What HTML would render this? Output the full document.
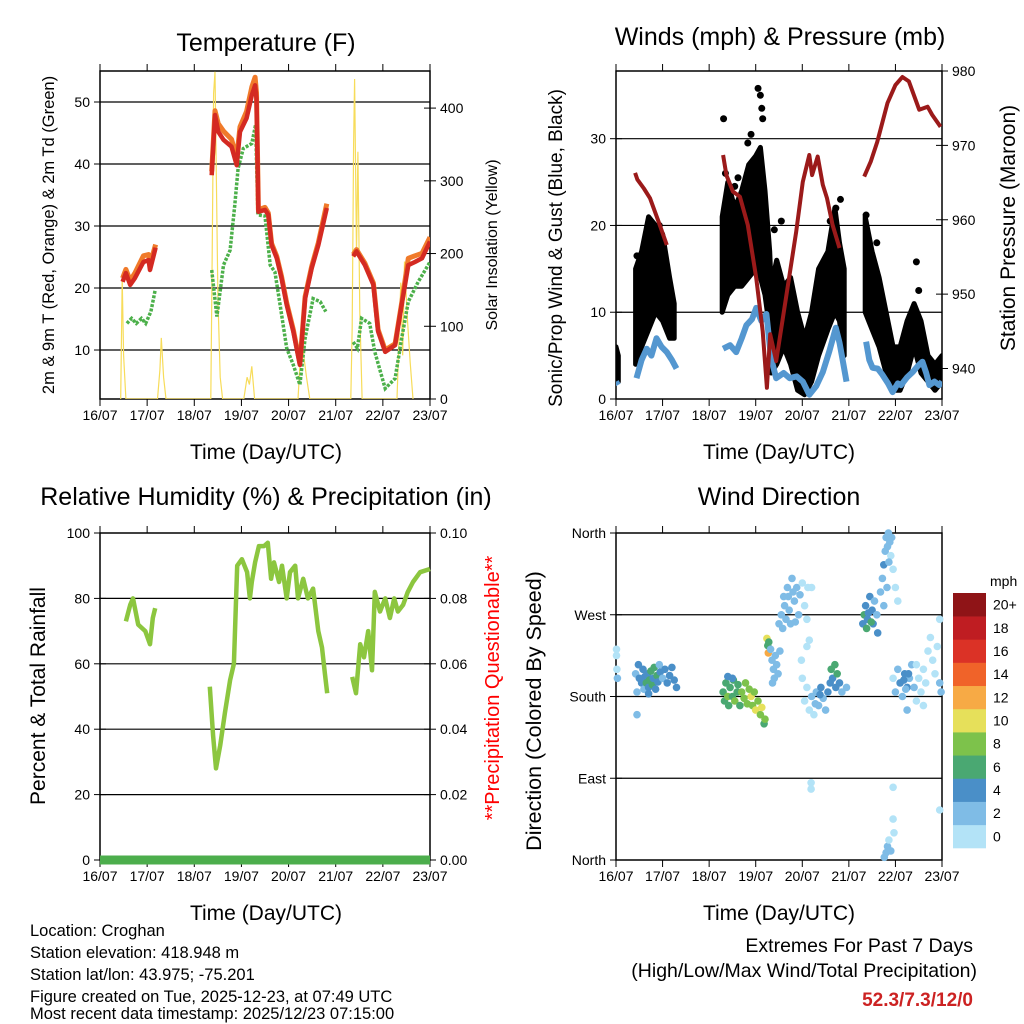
<!DOCTYPE html>
<html><head><meta charset="utf-8">
<style>
html,body{margin:0;padding:0;background:#fff;}
svg{display:block;font-family:"Liberation Sans",Arial,sans-serif;}
</style></head>
<body>
<svg id="chart" width="1024" height="1024" viewBox="0 0 1024 1024" xmlns="http://www.w3.org/2000/svg">
<rect x="0" y="0" width="1024" height="1024" fill="#fff"/>
<g id="layer"></g>
<text x="266" y="51" font-size="25" text-anchor="middle">Temperature (F)</text>
<text x="780" y="45" font-size="25" text-anchor="middle">Winds (mph) &amp; Pressure (mb)</text>
<text x="266" y="505" font-size="25" text-anchor="middle">Relative Humidity (%) &amp; Precipitation (in)</text>
<text x="779" y="505" font-size="25" text-anchor="middle">Wind Direction</text>
<text x="266" y="459" font-size="21" text-anchor="middle">Time (Day/UTC)</text>
<text x="779" y="459" font-size="21" text-anchor="middle">Time (Day/UTC)</text>
<text x="266" y="920" font-size="21" text-anchor="middle">Time (Day/UTC)</text>
<text x="779" y="920" font-size="21" text-anchor="middle">Time (Day/UTC)</text>
<text transform="translate(54,235) rotate(-90)" font-size="16.5" text-anchor="middle">2m &amp; 9m T (Red, Orange) &amp; 2m Td (Green)</text>
<text transform="translate(497,245) rotate(-90)" font-size="16" text-anchor="middle">Solar Insolation (Yellow)</text>
<text transform="translate(562,248) rotate(-90)" font-size="19" text-anchor="middle">Sonic/Prop Wind &amp; Gust (Blue, Black)</text>
<text transform="translate(1015,228) rotate(-90)" font-size="21" text-anchor="middle">Station Pressure (Maroon)</text>
<text transform="translate(45,696) rotate(-90)" font-size="21" text-anchor="middle">Percent &amp; Total Rainfall</text>
<text transform="translate(499,688) rotate(-90)" font-size="20" text-anchor="middle" fill="#ff0000">**Precipitation Questionable**</text>
<text transform="translate(541,711) rotate(-90)" font-size="21.5" text-anchor="middle">Direction (Colored By Speed)</text>
<g font-size="16.5">
<text x="30" y="936">Location: Croghan</text>
<text x="30" y="958">Station elevation: 418.948 m</text>
<text x="30" y="980">Station lat/lon: 43.975; -75.201</text>
<text x="30" y="1002">Figure created on Tue, 2025-12-23, at 07:49 UTC</text>
<text x="30" y="1019">Most recent data timestamp: 2025/12/23 07:15:00</text>
</g>
<g text-anchor="end">
<text x="973" y="952" font-size="19.5">Extremes For Past 7 Days</text>
<text x="977" y="977" font-size="19.5">(High/Low/Max Wind/Total Precipitation)</text>
<text x="973" y="1006" font-size="19" font-weight="bold" fill="#cc2222">52.3/7.3/12/0</text>
</g>
</svg>
<script>
// ---------- DATA ----------
const dayLabels=["16/07","17/07","18/07","19/07","20/07","21/07","22/07","23/07"];
const tempTicks=[0,10,20,30,40,50];
const solarTicks=[0,100,200,300,400];
const windTicks=[0,10,20,30];
const presTicks=[940,950,960,970,980];
const rhTicks=[0,20,40,60,80,100];
const precipTicks=["0.00","0.02","0.04","0.06","0.08","0.10"];
const dirTickLabels=["North","East","South","West","North"];
const dirTickValues=[0,90,180,270,360];
const speedBinLabels=["0","2","4","6","8","10","12","14","16","18","20+"];
const speedColors=["#b3e3f7","#7fbce6","#4a8fc8","#4aa872","#7dc24b","#e6e05a","#f7aa45","#f06329","#db3226","#bf1d22","#8f1417"];

const tempT=[0.48,0.55,0.64,0.74,0.92,1.03,1.06,1.18,null,2.37,2.44,2.51,2.62,2.79,2.90,2.97,3.11,3.22,3.29,3.32,3.36,3.50,3.57,3.64,3.75,3.85,3.96,4.10,4.24,4.35,4.49,4.63,4.81,null,5.37,5.44,5.62,5.80,5.90,6.05,6.26,6.40,6.54,6.68,6.83,7.0];
const temp2m=[21.0,22.4,20.5,21.6,24.2,24.5,22.9,26.5,null,38.2,47.9,45.2,43.9,42.8,39.8,45.2,47.4,51.1,52.7,50.6,32.3,32.6,31.8,26.9,24.8,21.6,17.3,13.0,7.6,18.3,23.2,26.9,32.9,null,25.1,25.9,23.7,20.5,13.0,9.7,10.8,17.3,23.7,24.2,24.8,27.5];
const temp9m=[21.6,23.0,21.2,22.4,25.2,25.4,23.8,27.0,null,38.8,48.6,46.5,45.3,44.0,41.0,46.0,48.5,52.4,54.0,51.5,32.6,33.0,32.1,27.2,25.1,21.9,17.6,13.3,7.8,18.6,23.5,27.3,33.6,null,25.4,26.2,24.0,20.8,13.3,10.0,11.0,17.6,24.8,25.2,25.6,28.2];
const tdT=[0.57,0.67,0.77,0.88,0.97,1.08,1.17,null,2.37,2.48,2.62,2.76,2.86,2.93,3.04,3.22,3.30,3.35,3.50,3.61,3.71,3.82,3.96,4.10,4.24,4.35,4.52,4.67,4.79,null,5.37,5.46,5.55,5.72,5.83,6.05,6.26,6.40,6.54,6.75,7.0];
const tdV=[14.3,15.1,14.3,15.1,14.3,16.2,19.7,null,22.9,15.4,23.7,26.1,33.4,39.3,42.5,43.3,46.3,31.8,31.6,23.7,22.6,17.3,10.3,7.6,4.4,11.9,18.3,17.8,16.2,null,11.3,10.3,15.1,14.3,9.7,3.8,5.4,11.9,17.8,21.0,24.2];
const solarT=[0.44,0.47,0.50,0.55,1.22,1.27,1.30,1.35,1.40,2.35,2.38,2.41,2.44,2.47,2.50,2.55,2.60,3.05,3.12,3.17,3.22,3.28,4.20,4.27,4.32,4.38,4.45,5.32,5.35,5.38,5.40,5.44,5.47,5.51,5.56,6.30,6.38,6.42,6.46,6.52,6.58,6.64];
const solarV=[0,166,60,0,0,40,84,30,0,0,200,420,450,300,140,30,0,0,30,20,45,0,0,80,60,30,0,0,100,350,440,200,340,120,0,0,160,60,189,110,50,0];

const sonicT=[0.0,0.04,null,0.44,0.55,0.66,0.76,0.87,0.98,1.09,1.20,1.30,null,2.30,2.45,2.58,2.70,2.80,2.92,3.01,3.12,3.23,3.33,3.44,3.60,3.73,3.88,4.01,4.15,4.30,4.44,4.58,4.72,4.80,4.87,4.95,null,5.37,5.44,5.51,5.62,5.72,5.84,5.94,6.05,6.12,6.25,6.37,6.48,6.58,6.66,6.73,6.84,6.94,7.0];
const sonicV=[2.0,1.6,null,2.4,4.5,5.8,5.0,7.0,6.0,5.4,4.5,3.5,null,5.8,6.2,5.4,7.0,8.5,9.2,10.5,9.0,9.8,4.7,2.4,3.0,2.4,2.6,2.0,0.5,1.5,3.1,5.5,8.2,6.5,4.4,2.0,null,6.6,4.5,3.6,3.5,2.8,1.8,0.8,1.8,1.6,2.5,3.1,3.8,4.3,3.0,1.6,2.0,1.6,2.0];
const gustT=[0.0,0.05,null,0.42,0.55,0.70,0.85,1.00,1.15,1.25,null,2.28,2.40,2.55,2.70,2.85,3.00,3.10,3.20,3.30,3.33,3.45,3.60,3.75,3.90,4.05,4.20,4.35,4.55,4.70,4.80,4.90,null,5.35,5.50,5.65,5.80,5.95,6.10,6.25,6.40,6.55,6.70,6.85,7.0];
const gustLo=[2,2,null,4,6,8,10,9,7,7,null,10,12,13,13,14,15,14,12,8,3,4,6,4,1,0.5,2,5,8,10,9,5,null,10,8,6,3,1,1,3,6,3,2,1,2];
const gustHi=[6,5,null,15,17,21,20,19,14,11,null,21,25,22,24,27,28,29,24,17,13,16,13,14,10,7,10,15,17,22,18,15,null,21,17,14,10,6,6,9,11,9,5,4,5];
const gustOutT=[2.31,2.62,2.83,2.90,3.05,3.10,3.13,3.15,3.55,4.72,4.82,5.37,5.60,6.45,0.45,0.62,0.93,2.35,2.55,3.40,3.48,4.60,5.45,6.50];
const gustOutV=[32.3,25.5,29.5,30.5,35.8,35.0,33.5,32.3,20.5,22.0,23.0,21.2,18.0,15.8,16.5,17.5,20.0,26.0,24.5,19.5,14.5,20.5,17.5,12.5];
const presT=[0.41,0.46,0.60,0.73,0.91,1.09,null,2.30,2.37,2.51,2.66,2.83,3.01,3.15,3.24,3.31,3.44,3.65,3.87,4.01,4.15,4.21,4.33,4.44,4.53,4.65,4.80,null,5.33,5.47,5.61,5.83,6.00,6.15,6.29,6.51,6.69,6.79,6.97];
const presV=[966.3,965.4,964.2,962.9,959.8,956.6,null,968.7,966.0,963.8,963.1,959.3,952.2,945.0,937.4,944.6,941.0,949.5,958.4,965.1,968.7,966.0,968.5,964.7,962.9,959.3,956.2,null,965.8,967.8,970.5,975.7,978.1,979.2,978.6,974.8,975.2,974.1,972.5];

const rhT=[0.55,0.64,0.70,0.81,0.96,1.06,1.12,1.17,null,2.33,2.40,2.46,2.55,2.65,2.76,2.84,2.91,3.01,3.12,3.18,3.22,3.29,3.37,3.48,3.56,3.63,3.69,3.80,3.86,3.96,4.03,4.14,4.20,4.31,4.41,4.52,4.63,4.71,4.77,4.82,null,5.35,5.43,5.52,5.60,5.69,5.77,5.83,5.94,6.05,6.15,6.24,6.32,6.43,6.53,6.64,6.79,7.0];
const rhV=[73,78,80,72,70,66,74,77,null,53,38,28,35,45,55,60,90,92,88,80,85,91,96,96,97,86,91,85,90,80,88,90,80,86,80,83,70,65,57,51,null,56,51,66,62,70,58,82,76,80,74,80,76,78,82,85,88,89];
const precipT=[0,7];
const precipV=[0,0];

const dirT=[0.01,0.02,0.03,0.01,0.42,0.45,0.48,0.5,0.55,0.58,0.6,0.62,0.65,0.68,0.7,0.72,0.75,0.78,0.8,0.82,0.85,0.88,0.9,0.93,0.95,1.0,1.05,1.1,1.15,1.2,1.25,1.3,0.45,0.7,
2.3,2.33,2.36,2.4,2.42,2.45,2.5,2.52,2.55,2.6,2.62,2.66,2.7,2.75,2.78,2.82,2.86,2.9,2.93,2.97,3.0,3.05,3.1,3.13,3.18,3.2,2.5,2.4,
3.24,3.26,3.27,3.28,3.32,3.35,3.38,3.4,3.42,3.45,3.48,3.52,3.36,
3.5,3.55,3.58,3.62,3.65,3.7,3.72,3.75,3.8,3.83,3.88,3.92,3.95,4.0,4.05,4.1,3.6,3.85,4.12,4.15,3.68,3.78,
4.05,4.1,4.15,4.2,4.25,4.3,4.35,4.4,4.45,4.5,4.55,4.6,4.62,4.65,4.7,4.72,4.75,4.8,4.85,4.95,4.0,3.98,4.1,4.28,4.38,
5.3,5.33,5.36,5.38,5.4,5.45,5.5,5.52,5.55,5.6,5.62,5.68,5.75,5.42,5.48,
5.72,5.75,5.78,5.8,5.83,5.85,5.88,5.9,5.95,6.0,6.05,5.82,5.92,5.86,
5.95,6.0,6.05,6.1,6.15,6.2,6.25,6.3,6.35,6.4,6.45,6.5,6.55,6.6,6.65,6.7,6.75,6.8,6.85,6.9,6.95,6.98,6.25,6.45,6.6,6.18,6.28,6.22,
5.76,5.8,5.83,5.86,5.9,5.95,5.97,
4.19,4.19,5.95,6.95,6.95,4.2];
const dirV=[225,210,200,232,205,185,215,200,195,210,188,202,195,205,190,198,208,193,200,212,188,203,196,215,207,200,210,195,203,212,198,190,160,183,
185,175,195,180,170,190,180,198,175,185,193,170,185,178,195,172,188,180,170,185,165,175,160,168,150,155,200,202,
244,236,228,240,232,220,210,200,225,215,205,230,195,
260,270,255,280,265,290,275,260,295,285,300,270,292,305,280,265,290,262,300,242,300,310,
175,190,165,180,160,185,170,190,178,165,185,195,210,200,215,190,205,195,185,190,200,220,235,172,182,
260,270,280,255,265,290,275,260,285,270,250,295,280,272,262,
310,325,340,355,345,360,350,335,320,300,285,300,355,328,
200,185,210,195,180,205,190,200,215,190,175,200,185,210,195,230,245,220,205,235,195,185,165,215,170,198,205,188,
3,8,15,22,10,45,30,
85,78,80,265,55,300];
const dirS=[1,1,2,1,3,3,4,4,4,4,3,5,6,4,5,6,6,6,5,6,4,6,4,3,4,3,4,4,4,4,4,4,3,4,
7,6,7,8,6,7,6,7,8,6,7,7,9,8,9,8,9,10,9,8,10,8,9,10,7,8,4,4,
10,7,12,6,2,2,2,2,3,2,2,2,2,
2,2,3,2,2,2,2,2,2,2,2,2,2,1,1,1,3,3,1,1,2,2,
1,1,1,2,1,3,2,4,3,2,4,4,6,5,6,4,6,4,3,2,1,1,1,3,4,
4,6,4,6,4,4,4,4,2,2,4,2,2,5,6,
2,4,2,2,2,2,2,1,1,1,1,2,2,3,
1,2,2,4,2,4,4,3,2,2,1,1,1,1,1,1,1,1,1,1,3,3,2,1,1,4,4,2,
2,2,2,1,2,1,1,
1,1,1,1,1,1];

// ---------- DRAWING ----------
const NS="http://www.w3.org/2000/svg";
const layer=document.getElementById('layer');
function mk(tag,attrs,parent){const e=document.createElementNS(NS,tag);for(const k in attrs)e.setAttribute(k,attrs[k]);(parent||layer).appendChild(e);return e;}
function scale(d0,d1,r0,r1){return v=>r0+(v-d0)/(d1-d0)*(r1-r0);}

const P1={x0:100,x1:430,y0:71,y1:399};
const P2={x0:616,x1:942,y0:71,y1:399};
const P3={x0:100,x1:430,y0:533,y1:860};
const P4={x0:616,x1:942,y0:533,y1:860};

function linePath(ts,vs,xs,ys){let d="",pen=false;for(let i=0;i<ts.length;i++){if(ts[i]===null||vs[i]===null){pen=false;continue;}d+=(pen?"L":"M")+xs(ts[i]).toFixed(1)+","+ys(vs[i]).toFixed(1);pen=true;}return d;}

function frame(P,name){
  const g=mk('g',{});
  
  
  mk('rect',{x:P.x0,y:P.y0,width:P.x1-P.x0,height:P.y1-P.y0,fill:'none',stroke:'#000','stroke-width':1.5},g);
  const xs=scale(0,7,P.x0,P.x1);
  dayLabels.forEach((lab,i)=>{
    const x=xs(i);
    mk('line',{x1:x,x2:x,y1:P.y1,y2:P.y1+7,stroke:'#000','stroke-width':1},g);
    mk('line',{x1:x,x2:x,y1:P.y0,y2:P.y0-7,stroke:'#000','stroke-width':1},g);
    const t=mk('text',{x:x,y:P.y1+21,'font-size':14,'text-anchor':'middle'},g);
    
    
    t.textContent=lab;
  });
  return xs;
}
function yAxis(P,ticks,labels,ys,side,grid,name){
  const g=mk('g',{});
  
  
  ticks.forEach((v,i)=>{
    const y=ys(v);
    if(grid && y>P.y0+1 && y<P.y1-1) mk('line',{x1:P.x0,x2:P.x1,y1:y,y2:y,stroke:'#000','stroke-width':1.2},g);
    const x=side==='l'?P.x0:P.x1;
    mk('line',{x1:x-6,x2:x+6,y1:y,y2:y,stroke:'#000','stroke-width':1},g);
    const t=mk('text',{x:side==='l'?x-10:x+10,y:y+5,'font-size':14,'text-anchor':side==='l'?'end':'start'},g);
    
    
    t.textContent=labels[i];
  });
}

// ---- Panel 1 Temperature
const x1s=frame(P1,'temperature-panel');
const yT=scale(2.1,55,P1.y1,P1.y0);
const yS=scale(0,451,P1.y1,P1.y0);
yAxis(P1,tempTicks.slice(1),tempTicks.slice(1),yT,'l',true,'temp-y-axis');
yAxis(P1,solarTicks,solarTicks,yS,'r',false,'solar-y-axis');
const clip1=mk('clipPath',{id:'c1'});mk('rect',{x:P1.x0,y:P1.y0,width:P1.x1-P1.x0,height:P1.y1-P1.y0},clip1);
const s1=mk('g',{'clip-path':'url(#c1)'});
let e;
e=mk('path',{d:linePath(solarT,solarV,x1s,yS),fill:'none',stroke:'#f7dc5a','stroke-width':1.2},s1);


e=mk('path',{d:linePath(tdT,tdV,x1s,yT),fill:'none',stroke:'#4cb04a','stroke-width':3.5,'stroke-dasharray':'3 1.5'},s1);


e=mk('path',{d:linePath(tempT,temp9m,x1s,yT),fill:'none',stroke:'#f07a2a','stroke-width':5,'stroke-linejoin':'round'},s1);


e=mk('path',{d:linePath(tempT,temp2m,x1s,yT),fill:'none',stroke:'#d42a22','stroke-width':4.5,'stroke-linejoin':'round'},s1);



// ---- Panel 2 Winds
const x2s=frame(P2,'winds-panel');
const yW=scale(0,37.8,P2.y1,P2.y0);
const yP=scale(935.9,980,P2.y1,P2.y0);
yAxis(P2,windTicks,windTicks,yW,'l',true,'wind-y-axis');
yAxis(P2,presTicks,presTicks,yP,'r',false,'pressure-y-axis');
const clip2=mk('clipPath',{id:'c2'});mk('rect',{x:P2.x0,y:P2.y0-4,width:P2.x1-P2.x0,height:P2.y1-P2.y0+4},clip2);
const s2=mk('g',{'clip-path':'url(#c2)'});
(function(){
  let segs=[[]];
  gustT.forEach((t,i)=>{if(t===null){segs.push([]);}else segs[segs.length-1].push(i);});
  segs.forEach(sg=>{
    if(!sg.length)return;
    let d="";
    sg.forEach((i,k)=>{d+=(k?"L":"M")+x2s(gustT[i]).toFixed(1)+","+yW(gustHi[i]).toFixed(1);});
    sg.slice().reverse().forEach(i=>{d+="L"+x2s(gustT[i]).toFixed(1)+","+yW(gustLo[i]).toFixed(1);});
    d+="Z";
    const p=mk('path',{d:d,fill:'#000',stroke:'#000','stroke-width':5,'stroke-linejoin':'round'},s2);
    
    
  });
})();
gustOutT.forEach((t,i)=>{
  const c=mk('circle',{cx:x2s(t),cy:yW(gustOutV[i]),r:3.5,fill:'#000'},s2);
  
  
});
e=mk('path',{d:linePath(sonicT,sonicV,x2s,yW),fill:'none',stroke:'#5497d0','stroke-width':6,'stroke-linejoin':'round'},s2);


e=mk('path',{d:linePath(presT,presV,x2s,yP),fill:'none',stroke:'#9b1a1a','stroke-width':4,'stroke-linejoin':'round'},s2);



// ---- Panel 3 RH
const x3s=frame(P3,'humidity-panel');
const yR=scale(0,100,P3.y1,P3.y0);
yAxis(P3,rhTicks,rhTicks,yR,'l',true,'rh-y-axis');
yAxis(P3,rhTicks,precipTicks,yR,'r',false,'precip-y-axis');
e=mk('path',{d:linePath(rhT,rhV,x3s,yR),fill:'none',stroke:'#8cc63f','stroke-width':4.5,'stroke-linejoin':'round'});


const yPr=scale(0,0.1,P3.y1,P3.y0);
e=mk('path',{d:linePath(precipT,precipV,x3s,yPr),fill:'none',stroke:'#4cae4c','stroke-width':9});



// ---- Panel 4 Wind direction
const x4s=frame(P4,'wind-direction-panel');
const yD=scale(0,360,P4.y1,P4.y0);
yAxis(P4,dirTickValues,dirTickLabels,yD,'l',true,'direction-y-axis');
dirT.forEach((t,i)=>{
  const b=Math.max(0,Math.min(10,Math.floor(dirS[i]/2)));
  const c=mk('circle',{cx:x4s(t).toFixed(1),cy:yD(dirV[i]).toFixed(1),r:3.8,fill:speedColors[b]});
  
  
});
(function(){
  const g=mk('g',{});
  
  
  const top=593,bot=848,h=(bot-top)/speedColors.length;
  speedColors.forEach((c,i)=>{
    const y=bot-(i+1)*h;
    mk('rect',{x:953,y:y,width:33,height:h+0.3,fill:c},g);
    const t=mk('text',{x:993,y:y+h/2+5,'font-size':14},g);
    
    
    t.textContent=speedBinLabels[i];
  });
  const t=mk('text',{x:990,y:586,'font-size':14},g);
  
  
  t.textContent='mph';
})();
</script>
</body></html>
